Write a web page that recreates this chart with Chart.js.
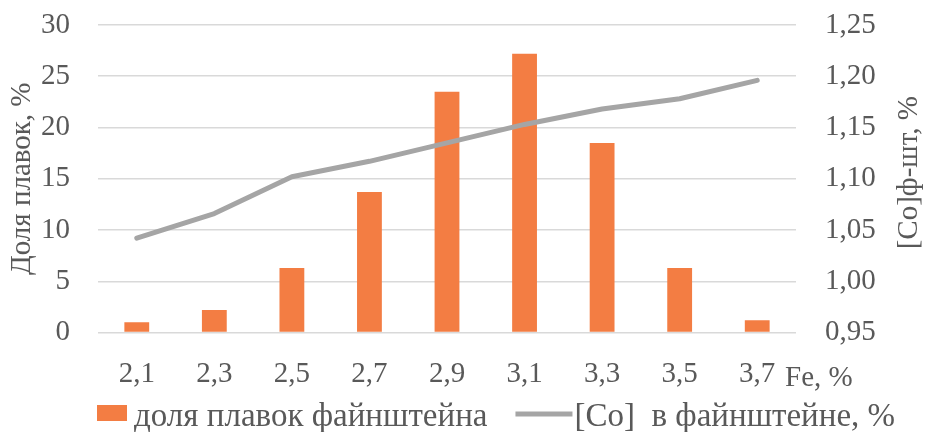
<!DOCTYPE html>
<html>
<head>
<meta charset="utf-8">
<script src="https://cdn.jsdelivr.net/npm/chart.js@4.4.1/dist/chart.umd.min.js"></script>
<style>
  html, body { margin: 0; padding: 0; background: #ffffff; }
  #wrap { width: 928px; height: 432px; position: relative; }
</style>
</head>
<body>
<div id="wrap"><canvas id="chart" width="928" height="432"></canvas></div>
<script>
// Fe content classes, %
const categories = ['2,1', '2,3', '2,5', '2,7', '2,9', '3,1', '3,3', '3,5', '3,7'];
// share of matte melts in each class, %
const meltShare = [1.0, 2.2, 6.3, 13.7, 23.5, 27.2, 18.5, 6.3, 1.2];
// cobalt content in the matte, %
const cobaltContent = [1.042, 1.066, 1.102, 1.117, 1.135, 1.153, 1.168, 1.178, 1.196];
// axis ticks
const shareTicks = [0, 5, 10, 15, 20, 25, 30];
const cobaltTicks = [0.95, 1.00, 1.05, 1.10, 1.15, 1.20, 1.25];

const FONT = "'Liberation Serif', 'Times New Roman', serif";
const TEXT = '#595959';
const ORANGE = '#F37D43';
const GREY = '#A5A5A5';

// vertical axes: keep the plot area edges fixed regardless of label overflow
function fixVertical(width) {
  return function (s) {
    s.width = width;
    s.paddingTop = 0;
    s.paddingBottom = 0;
  };
}

const extras = {
  id: 'extras',
  afterDraw(chart) {
    const ctx = chart.ctx;
    const area = chart.chartArea;
    ctx.save();
    ctx.fillStyle = TEXT;
    // x axis unit label after the last category
    ctx.font = '29px ' + FONT;
    ctx.textAlign = 'left';
    ctx.textBaseline = 'alphabetic';
    ctx.fillText('Fe, %', area.right - 11, 386);
    // right axis title, reading bottom to top
    ctx.save();
    ctx.translate(909, (area.top + area.bottom) / 2 - 6);
    ctx.rotate(-Math.PI / 2);
    ctx.textAlign = 'center';
    ctx.textBaseline = 'middle';
    ctx.fillText('[Co]ф-шт, %', 0, 0);
    ctx.restore();
    // legend
    const ds = chart.data.datasets;
    const base = 426;
    ctx.font = '33px ' + FONT;
    ctx.textBaseline = 'alphabetic';
    let x = 97;
    ctx.fillStyle = ORANGE;
    ctx.fillRect(x, 405, 30, 16);
    x += 37;
    ctx.fillStyle = TEXT;
    ctx.fillText(ds[0].label, x, base);
    x += ctx.measureText(ds[0].label).width + 28;
    ctx.strokeStyle = GREY;
    ctx.lineWidth = 5;
    ctx.beginPath();
    ctx.moveTo(x, 414);
    ctx.lineTo(x + 57, 414);
    ctx.stroke();
    x += 59;
    ctx.fillText(ds[1].label, x, base);
    ctx.restore();
  }
};

new Chart(document.getElementById('chart'), {
  data: {
    labels: categories,
    datasets: [
      {
        type: 'bar',
        label: 'доля плавок файнштейна',
        data: meltShare,
        backgroundColor: ORANGE,
        borderWidth: 0,
        categoryPercentage: 1,
        barPercentage: 0.32,
        yAxisID: 'y',
        order: 2
      },
      {
        type: 'line',
        label: '[Co]  в файнштейне, %',
        data: cobaltContent,
        borderColor: GREY,
        borderWidth: 5,
        borderCapStyle: 'round',
        borderJoinStyle: 'round',
        pointRadius: 0,
        tension: 0,
        yAxisID: 'y1',
        order: 1
      }
    ]
  },
  options: {
    responsive: false,
    animation: false,
    devicePixelRatio: 1,
    layout: { padding: { top: 25, left: 0, right: 0, bottom: 44.5 } },
    plugins: { legend: { display: false }, tooltip: { enabled: false } },
    scales: {
      x: {
        offset: true,
        grid: { display: false, drawTicks: false },
        border: { display: false },
        ticks: { color: TEXT, font: { family: FONT, size: 29 }, padding: 24, maxRotation: 0 },
        afterFit(s) { s.height = 55; }
      },
      y: {
        position: 'left',
        min: shareTicks[0],
        max: shareTicks[shareTicks.length - 1],
        afterBuildTicks(s) { s.ticks = shareTicks.map(v => ({ value: v })); },
        grid: { color: '#D9D9D9', lineWidth: 1.5, drawTicks: false },
        border: { display: false },
        ticks: { color: TEXT, font: { family: FONT, size: 29 }, padding: 28 },
        title: { display: true, text: 'Доля плавок, %', color: TEXT, font: { family: FONT, size: 29 }, padding: { top: 5, bottom: 0 } },
        afterFit: fixVertical(98)
      },
      y1: {
        position: 'right',
        min: cobaltTicks[0],
        max: cobaltTicks[cobaltTicks.length - 1],
        afterBuildTicks(s) { s.ticks = cobaltTicks.map(v => ({ value: v })); },
        grid: { display: false, drawTicks: false },
        border: { display: false },
        ticks: {
          color: TEXT, font: { family: FONT, size: 29 }, padding: 29,
          callback: v => v.toFixed(2).replace('.', ',')
        },
        afterFit: fixVertical(132)
      }
    }
  },
  plugins: [extras]
});
</script>
</body>
</html>
